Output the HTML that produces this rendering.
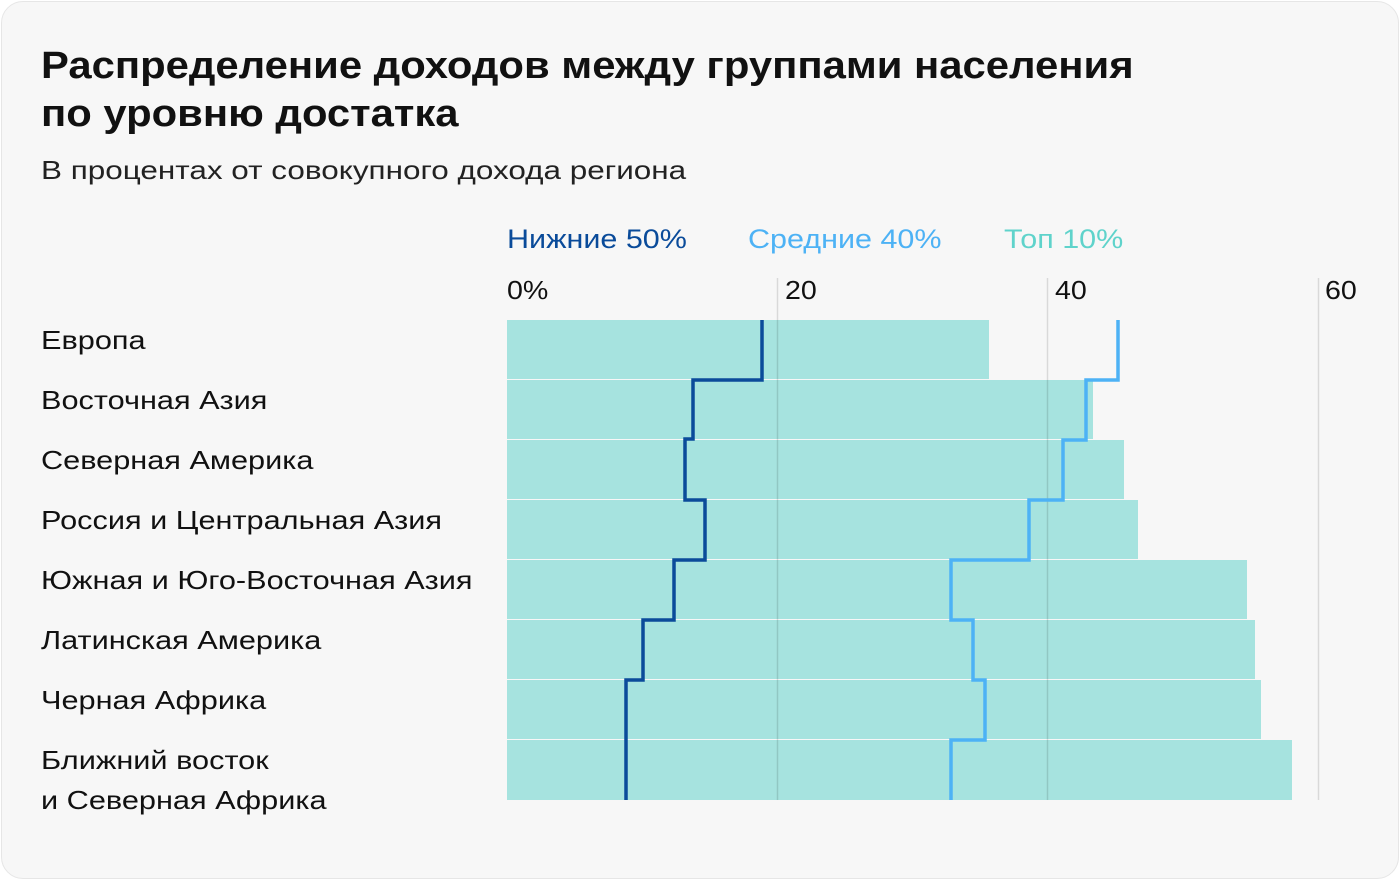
<!DOCTYPE html>
<html><head><meta charset="utf-8"><style>
html,body{margin:0;padding:0;background:#fff;}
body{width:1400px;height:880px;position:relative;font-family:"Liberation Sans",sans-serif;overflow:hidden;}
.card{position:absolute;left:1px;top:1px;width:1396px;height:876px;background:#f7f7f7;border:1px solid #e6e6e6;border-radius:22px;}
.t{position:absolute;white-space:nowrap;color:#111;transform-origin:0 0;}
.l{font-size:26px;line-height:40px;transform:scaleX(1.18);}
.ax{font-size:26px;transform:scaleX(1.1);}
</style></head><body>
<div class="card"></div>
<div class="t" style="left:41px;top:42px;font-size:38px;font-weight:bold;line-height:48px;transform:scaleX(1.1);">Распределение доходов между группами населения<br>по уровню достатка</div>
<div class="t" style="left:41px;top:155px;font-size:26px;color:#222;transform:scaleX(1.21);">В процентах от совокупного дохода региона</div>
<div class="t" style="left:507px;top:224px;font-size:27px;color:#0a4b9a;transform:scaleX(1.13);">Нижние 50%</div>
<div class="t" style="left:748px;top:224px;font-size:27px;color:#4db2f5;transform:scaleX(1.13);">Средние 40%</div>
<div class="t" style="left:1004px;top:224px;font-size:27px;color:#5fd3cb;transform:scaleX(1.13);">Топ 10%</div>
<div class="t ax" style="left:507px;top:275px;">0%</div>
<div class="t ax" style="left:785px;top:275px;">20</div>
<div class="t ax" style="left:1055px;top:275px;">40</div>
<div class="t ax" style="left:1325px;top:275px;">60</div>
<div class="t l" style="left:41px;top:320px;">Европа</div>
<div class="t l" style="left:41px;top:380px;">Восточная Азия</div>
<div class="t l" style="left:41px;top:440px;">Северная Америка</div>
<div class="t l" style="left:41px;top:500px;">Россия и Центральная Азия</div>
<div class="t l" style="left:41px;top:560px;">Южная и Юго-Восточная Азия</div>
<div class="t l" style="left:41px;top:620px;">Латинская Америка</div>
<div class="t l" style="left:41px;top:680px;">Черная Африка</div>
<div class="t l" style="left:41px;top:740px;">Ближний восток<br>и Северная Африка</div>
<svg style="position:absolute;left:0;top:0" width="1400" height="880">
<g fill="#a6e3df">
<rect x="507" y="320" width="482" height="59"/>
<rect x="507" y="380" width="586" height="59"/>
<rect x="507" y="440" width="617" height="59"/>
<rect x="507" y="500" width="631" height="59"/>
<rect x="507" y="560" width="740" height="59"/>
<rect x="507" y="620" width="748" height="59"/>
<rect x="507" y="680" width="754" height="59"/>
<rect x="507" y="740" width="785" height="60"/>
</g>
<g stroke="#000" stroke-opacity="0.12" stroke-width="1.5">
<line x1="777.5" y1="278" x2="777.5" y2="800"/>
<line x1="1047.5" y1="278" x2="1047.5" y2="800"/>
<line x1="1318.5" y1="278" x2="1318.5" y2="800"/>
</g>
<polyline fill="none" stroke="#0a4b9a" stroke-width="3.5" points="762,320 762,380 693,380 693,439 685,439 685,500 705,500 705,560 674,560 674,620 643,620 643,680 626,680 626,800"/>
<polyline fill="none" stroke="#4db2f5" stroke-width="3.5" points="1118,320 1118,380 1086,380 1086,440 1063,440 1063,500 1029,500 1029,560 951,560 951,620 973,620 973,680 985,680 985,740 951,740 951,800"/>
</svg>
</body></html>
